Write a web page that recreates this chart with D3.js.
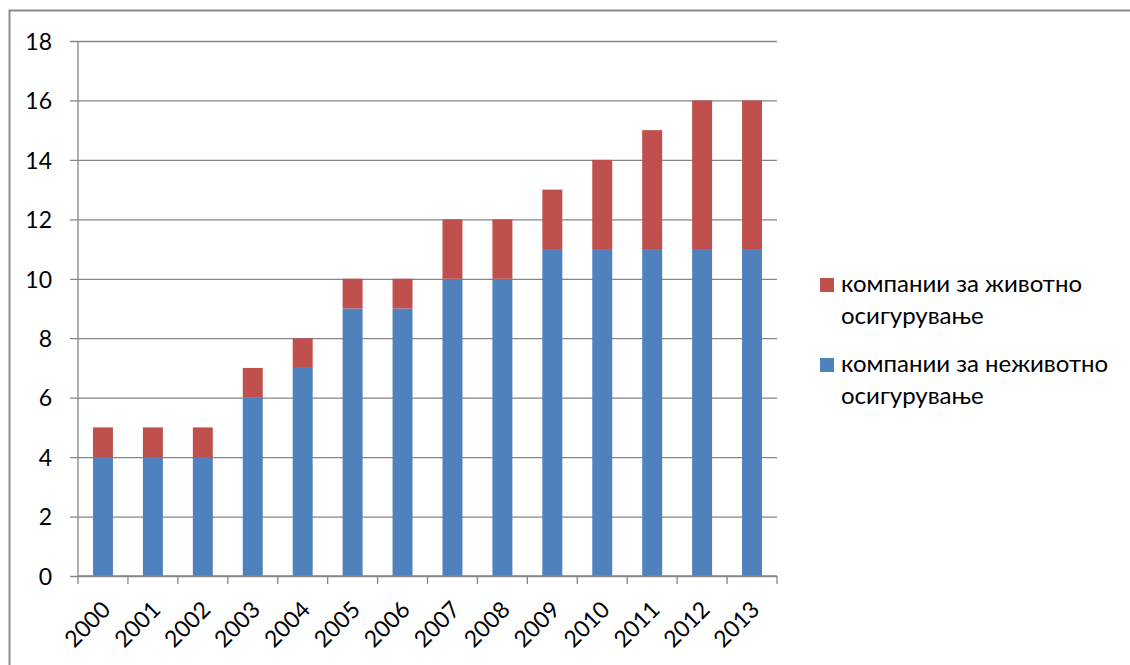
<!DOCTYPE html>
<html>
<head>
<meta charset="utf-8">
<script src="https://cdn.jsdelivr.net/npm/d3@7"></script>
<style>
  html, body { margin: 0; padding: 0; background: #fff; }
  svg { display: block; }
  text { font-family: Lato, "Open Sans", "Liberation Sans", sans-serif; fill: #000; }
</style>
</head>
<body>
<svg id="chart" width="1130" height="665"></svg>
<script>
// Years on the category axis
const years = ["2000","2001","2002","2003","2004","2005","2006","2007","2008","2009","2010","2011","2012","2013"];
// Non-life insurance companies (bottom segment)
const nonLife = [4, 4, 4, 6, 7, 9, 9, 10, 10, 11, 11, 11, 11, 11];
// Life insurance companies (top segment)
const life = [1, 1, 1, 1, 1, 1, 1, 2, 2, 2, 3, 4, 5, 5];
// Value axis ticks
const yTicks = [0, 2, 4, 6, 8, 10, 12, 14, 16, 18];
// Legend entries (top to bottom) with wrapped labels
const legendLabels = [
  ["компании за животно", "осигурување"],
  ["компании за неживотно", "осигурување"]
];

const colors = { nonLife: "#4F81BD", life: "#C0504D" };
const gridColor = "#868686";
const axisFont = 23;
const legendFont = 24;

const svg = d3.select("#chart");

// Outer chart frame (extends past the right/bottom edges)
svg.append("rect")
  .attr("x", 9.5).attr("y", 10.5)
  .attr("width", 1200).attr("height", 700)
  .attr("fill", "none").attr("stroke", "#8c8c8c").attr("stroke-width", 2);

const plot = { left: 78, right: 777, top: 41, bottom: 576 };

const x = d3.scaleBand()
  .domain(years)
  .range([plot.left, plot.right])
  .paddingInner(0.6)
  .paddingOuter(0.3);

const y = d3.scaleLinear()
  .domain([0, 18])
  .range([plot.bottom, plot.top]);

// Horizontal gridlines with tick marks extending left of the axis
const yAxis = d3.axisLeft(y)
  .tickValues(yTicks)
  .tickSize(-(plot.right - plot.left))
  .tickFormat(d3.format("d"));

const gy = svg.append("g")
  .attr("transform", `translate(${plot.left},0)`)
  .call(yAxis);
gy.select(".domain").remove();
gy.selectAll(".tick line")
  .attr("x1", -8)
  .attr("x2", plot.right - plot.left)
  .attr("stroke", gridColor)
  .attr("stroke-width", 1.3);
gy.selectAll(".tick text")
  .attr("font-size", axisFont)
  .attr("x", -26)
  .attr("dy", "0.36em");

// Stacked bars
const stackData = years.map((yr, i) => ({ year: yr, nonLife: nonLife[i], life: life[i] }));
const series = d3.stack().keys(["nonLife", "life"])(stackData);

svg.append("g")
  .selectAll("g")
  .data(series)
  .join("g")
  .attr("fill", s => colors[s.key])
  .selectAll("rect")
  .data(s => s)
  .join("rect")
  .attr("x", d => x(d.data.year))
  .attr("width", x.bandwidth())
  .attr("y", d => y(d[1]))
  .attr("height", d => y(d[0]) - y(d[1]));

// Value axis line
svg.append("line")
  .attr("x1", plot.left).attr("x2", plot.left)
  .attr("y1", plot.top).attr("y2", plot.bottom)
  .attr("stroke", gridColor).attr("stroke-width", 1.3);

// Category axis with boundary tick marks
const gx = svg.append("g")
  .attr("transform", `translate(0,${plot.bottom})`);
gx.append("line")
  .attr("x1", plot.left).attr("x2", plot.right)
  .attr("stroke", gridColor).attr("stroke-width", 1.3);
const step = x.step();
const boundaries = years.map(yr => x(yr) - x.paddingOuter() * step).concat([plot.right]);
gx.selectAll(".bt")
  .data(boundaries)
  .join("line")
  .attr("class", "bt")
  .attr("x1", d => d).attr("x2", d => d)
  .attr("y1", 0).attr("y2", 8)
  .attr("stroke", gridColor).attr("stroke-width", 1.3);

gx.selectAll(".lbl")
  .data(years)
  .join("text")
  .attr("class", "lbl")
  .attr("font-size", axisFont)
  .attr("text-anchor", "end")
  .attr("transform", yr => `translate(${x(yr) + x.bandwidth() / 2 + 9},${35}) rotate(-45)`)
  .text(yr => yr);

// Legend
const legend = svg.append("g").attr("transform", "translate(820,0)");
const legendItems = [
  { color: colors.life, lines: legendLabels[0], top: 278 },
  { color: colors.nonLife, lines: legendLabels[1], top: 358 }
];
legendItems.forEach(item => {
  legend.append("rect")
    .attr("x", 0).attr("y", item.top)
    .attr("width", 14).attr("height", 14)
    .attr("fill", item.color);
  item.lines.forEach((ln, j) => {
    legend.append("text")
      .attr("x", 21)
      .attr("y", item.top + 14 + j * 32)
      .attr("font-size", legendFont)
      .text(ln);
  });
});
</script>
</body>
</html>
